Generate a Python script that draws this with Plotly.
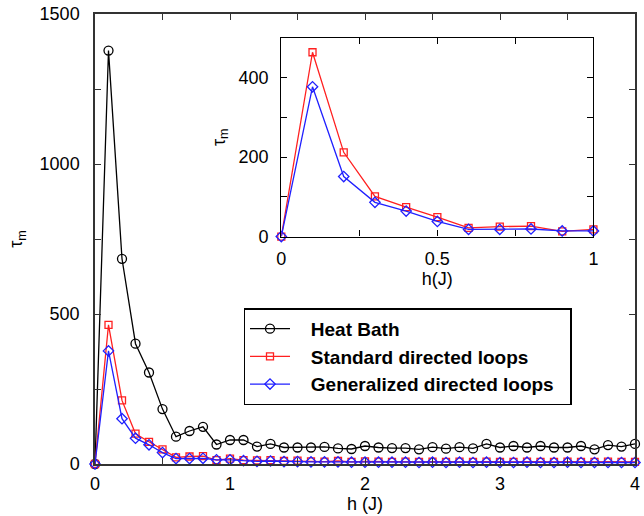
import plotly.graph_objects as go

# ---- data ----
h = [round(0.1 * i, 1) for i in range(41)]

heat_bath = [0, 1378, 684, 401, 305, 183, 91, 110, 124, 65,
             80, 80, 58, 67, 55, 55, 55, 57, 52, 50,
             60, 55, 53, 53, 49, 56, 51, 56, 52, 67,
             55, 60, 55, 60, 55, 55, 60, 49, 63, 58, 67]

standard = [0, 464, 212, 101, 74, 49, 22, 25, 26, 13,
            18, 13, 12, 13, 10, 11, 9, 8, 10, 7,
            9, 8, 7, 8, 7, 8, 7, 8, 7, 8,
            7, 7, 8, 7, 7, 8, 7, 7, 8, 7, 7]

generalized = [0, 377, 151, 86, 64, 38, 18, 18, 19, 14,
               14, 11, 9, 10, 8, 8, 7, 7, 7, 6,
               6, 6, 6, 6, 5, 6, 5, 6, 5, 6,
               5, 5, 6, 5, 5, 6, 5, 5, 5, 5, 5]

inset_n = 11  # inset shows h in [0, 1]

main_xticks = [0, 1, 2, 3, 4]
main_xminor = [0.5, 1.5, 2.5, 3.5]
main_yticks = [0, 500, 1000, 1500]
main_yminor = [250, 750, 1250]
inset_xticks = [0, 0.5, 1]
inset_xminor = [0.25, 0.75]
inset_yticks = [0, 200, 400]
inset_yminor = [100, 300, 500]

names = ["Heat Bath", "Standard directed loops", "Generalized directed loops"]

BLACK = "#000000"
RED = "#ff2020"
BLUE = "#2020ff"
FONT = "Liberation Sans, Arial, sans-serif"
PAD = "\u00a0\u00a0\u00a0"

fig = go.Figure()

fig.add_trace(go.Scatter(
    x=h, y=heat_bath, name=PAD + names[0], mode="lines+markers",
    line=dict(color=BLACK, width=1.3),
    marker=dict(symbol="circle-open", size=9, color=BLACK, line=dict(width=1.3)),
    cliponaxis=False, xaxis="x", yaxis="y"))
fig.add_trace(go.Scatter(
    x=h, y=standard, name=PAD + names[1], mode="lines+markers",
    line=dict(color=RED, width=1.3),
    marker=dict(symbol="square-open", size=7, color=RED, line=dict(width=1.3)),
    cliponaxis=False, xaxis="x", yaxis="y"))
fig.add_trace(go.Scatter(
    x=h, y=generalized, name=PAD + names[2] + "\u00a0\u00a0", mode="lines+markers",
    line=dict(color=BLUE, width=1.3),
    marker=dict(symbol="diamond-open", size=8, color=BLUE, line=dict(width=1.3)),
    cliponaxis=False, xaxis="x", yaxis="y"))

# inset
fig.add_trace(go.Scatter(
    x=h[:inset_n], y=standard[:inset_n], mode="lines+markers", showlegend=False,
    line=dict(color=RED, width=1.3),
    marker=dict(symbol="square-open", size=7, color=RED, line=dict(width=1.3)),
    cliponaxis=False, xaxis="x2", yaxis="y2"))
fig.add_trace(go.Scatter(
    x=h[:inset_n], y=generalized[:inset_n], mode="lines+markers", showlegend=False,
    line=dict(color=BLUE, width=1.3),
    marker=dict(symbol="diamond-open", size=8, color=BLUE, line=dict(width=1.3)),
    cliponaxis=False, xaxis="x2", yaxis="y2"))


def axis(rng, domain, ticks, minor, lc, lw, standoff, title, tstandoff, **kw):
    return dict(range=rng, domain=domain, tickvals=ticks,
                minor=dict(tickvals=minor, ticks="inside", ticklen=6, tickcolor=lc),
                showgrid=False, zeroline=False, ticks="inside", ticklen=6,
                tickcolor=lc, showline=True, mirror="ticks", linecolor=lc,
                linewidth=lw, ticklabelstandoff=standoff, ticklabeloverflow="allow",
                tickfont=dict(size=18, color=BLACK, family=FONT),
                title=dict(text=title, font=dict(size=18), standoff=tstandoff), **kw)


fig.update_layout(
    width=644, height=516,
    margin=dict(l=95, r=4, t=13, b=52),
    paper_bgcolor="white", plot_bgcolor="white",
    font=dict(family=FONT, color=BLACK, size=18),
    xaxis=axis([0, 4], [0, 1], main_xticks, main_xminor, "#333", 1.5, 3, "h (J)", 0),
    yaxis=axis([0, 1500], [0, 1], main_yticks, main_yminor, "#333", 1.5, 10,
               "τ<sub>m</sub>", 12),
    xaxis2=axis([0, 1], [0.345, 0.923], inset_xticks, inset_xminor, BLACK, 1.3, 6,
                "h(J)", 4, anchor="y2"),
    yaxis2=axis([0, 500], [0.5055, 0.9468], inset_yticks, inset_yminor, BLACK, 1.3, 8,
                "τ<sub>m</sub>", 8, anchor="x2"),
    legend=dict(x=0.275, y=0.346, xanchor="left", yanchor="top",
                bordercolor=BLACK, borderwidth=1.5, bgcolor="white",
                font=dict(size=19, family=FONT, color=BLACK, weight="bold"),
                tracegroupgap=0, itemwidth=40),
    showlegend=True,
)

fig.write_html("out.html",
               config={"displayModeBar": False},
               post_script="document.body.style.margin='0';document.body.style.overflow='hidden';")
